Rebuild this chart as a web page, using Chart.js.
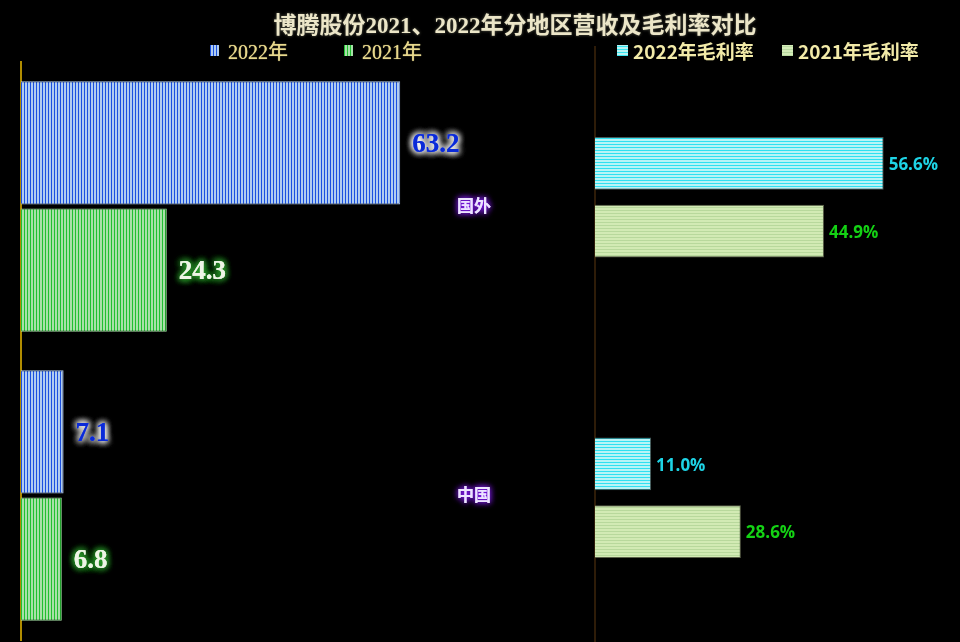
<!DOCTYPE html>
<html>
<head>
<meta charset="utf-8">
<script src="https://cdn.jsdelivr.net/npm/chart.js@4"></script>
<style>
  html, body { margin: 0; padding: 0; background: #000; }
  #wrap { position: relative; width: 960px; height: 642px; overflow: hidden; background: #000; }
  canvas { position: absolute; left: 0; top: 0; }
  .title { position: absolute; top: 6px; left: 515px; transform: translateX(-50%); white-space: nowrap;
    font: bold 23px "Liberation Serif", "Noto Sans CJK SC", serif; color: #ece6c8;
    text-shadow: 0 0 3px rgba(120,120,100,0.8); }
  .leg { position: absolute; white-space: nowrap; display: flex; align-items: center; }
  .legL { font: 20px "Liberation Serif", "Noto Sans CJK SC", serif; color: #e8d88c; top: 36px;
    text-shadow: 0 0 1px #e8d88c; }
  .legR { font: bold 19px "Noto Sans CJK SC", sans-serif; color: #f2eaa8; top: 37px; }
  .sw { display: inline-block; margin-right: 9px; }
</style>
</head>
<body>
<div id="wrap">
  <canvas id="left" width="960" height="642"></canvas>
  <canvas id="right" width="960" height="660"></canvas>
  <div class="title">博腾股份2021、2022年分地区营收及毛利率对比</div>
  <div class="leg legL" style="left:210px"><span class="sw" style="width:9px;height:11px;background:repeating-linear-gradient(90deg,#1a50e0 0 1px,#b0ccf0 1px 3px)"></span>2022年</div>
  <div class="leg legL" style="left:344px"><span class="sw" style="width:9px;height:11px;background:repeating-linear-gradient(90deg,#20c030 0 1px,#a8e0a8 1px 3px)"></span>2021年</div>
  <div class="leg legR" style="left:617px"><span class="sw" style="width:11px;height:11px;margin-right:5px;background:repeating-linear-gradient(0deg,#38e4f0 0 1px,#b8f4f4 1px 3px)"></span>2022年毛利率</div>
  <div class="leg legR" style="left:782px"><span class="sw" style="width:11px;height:11px;margin-right:5px;background:repeating-linear-gradient(0deg,#b8d8a0 0 1px,#d4ecb8 1px 3px)"></span>2021年毛利率</div>
</div>
<script>
"use strict";

// Data

var categories = ["国外", "中国"],
	revenue2022 = [63.2, 7.1],
	revenue2021 = [24.3, 6.8],
	margin2022 = [56.6, 11.0],
	margin2021 = [44.9, 28.6];

// Helpers

function stripes(dark, light, vertical) {
	var c = document.createElement("canvas"), g;

	c.width = 3;
	c.height = 3;
	g = c.getContext("2d");
	g.fillStyle = light;
	g.fillRect(0, 0, 3, 3);
	g.fillStyle = dark;
	if (vertical) {
		g.fillRect(0, 0, 1, 3);
	}
	else {
		g.fillRect(0, 0, 3, 1);
	}
	return g.createPattern(c, "repeat");
}

// draws value labels next to bar ends, with a glow
var valueLabels = {
	id: "valueLabels",
	afterDatasetsDraw: function (chart) {
		var ctx = chart.ctx, cfg = chart.options.plugins.valueLabels;

		chart.data.datasets.forEach(function (ds, i) {
			var meta = chart.getDatasetMeta(i), st = cfg.styles[i];

			meta.data.forEach(function (bar, j) {
				var text = ds.data[j].toFixed(1) + cfg.suffix;

				ctx.save();
				ctx.font = cfg.font;
				ctx.textAlign = "left";
				ctx.textBaseline = "middle";
				ctx.fillStyle = st.color;
				if (st.glow) {
					ctx.shadowColor = st.glow;
					ctx.shadowBlur = 7;
					ctx.fillText(text, bar.x + cfg.offset, bar.y + 2);
					ctx.fillText(text, bar.x + cfg.offset, bar.y + 2);
					ctx.fillText(text, bar.x + cfg.offset, bar.y + 2);
				}
				ctx.fillText(text, bar.x + cfg.offset, bar.y + 2);
				ctx.restore();
			});
		});
	}
};

// category names drawn between the two charts
var categoryLabels = {
	id: "categoryLabels",
	afterDraw: function (chart) {
		var ctx = chart.ctx, y = chart.scales.y;

		categories.forEach(function (name, i) {
			ctx.save();
			ctx.font = "bold 17px 'Noto Sans CJK SC'";
			ctx.textAlign = "center";
			ctx.textBaseline = "middle";
			ctx.fillStyle = "#ece4ff";
			ctx.shadowColor = "#8a1cff";
			ctx.shadowBlur = 6;
			ctx.fillText(name, 474, y.getPixelForValue(i) - 1);
			ctx.fillText(name, 474, y.getPixelForValue(i) - 1);
			ctx.restore();
		});
	}
};

// Revenue chart (left)

new Chart(document.getElementById("left"), {
	type: "bar",
	data: {
		labels: categories,
		datasets: [{
			label: "2022年",
			data: revenue2022,
			backgroundColor: stripes("#1a50e0", "#b0ccf0", true),
			borderColor: "#a8c4f0",
			borderWidth: 1
		}, {
			label: "2021年",
			data: revenue2021,
			backgroundColor: stripes("#20c030", "#a8e0a8", true),
			borderColor: "#a0dca0",
			borderWidth: 1
		}]
	},
	options: {
		indexAxis: "y",
		responsive: false,
		animation: false,
		categoryPercentage: 0.88,
		barPercentage: 0.97,
		layout: { padding: { left: 21, top: 62, right: 339, bottom: 2 } },
		scales: {
			x: { display: false, min: 0, max: 100 },
			y: {
				ticks: { display: false },
				grid: { display: false, drawTicks: false },
				border: { color: "#b08c00", width: 2 }
			}
		},
		plugins: {
			legend: { display: false },
			tooltip: { enabled: false },
			valueLabels: {
				font: "bold 27px 'Liberation Serif'",
				offset: 12,
				suffix: "",
				styles: [{ color: "#0a2ad8", glow: "#ffffff" }, { color: "#eef4e6", glow: "#2a9a2a" }]
			}
		}
	},
	plugins: [valueLabels, categoryLabels]
});

// Gross margin chart (right)

new Chart(document.getElementById("right"), {
	type: "bar",
	data: {
		labels: categories,
		datasets: [{
			label: "2022年毛利率",
			data: margin2022,
			backgroundColor: stripes("#30e0f0", "#b8f4f6", false),
			borderColor: "#4a5a5a",
			borderWidth: 1
		}, {
			label: "2021年毛利率",
			data: margin2021,
			backgroundColor: stripes("#b8d89c", "#d2eab4", false),
			borderColor: "#5a6048",
			borderWidth: 1
		}]
	},
	options: {
		indexAxis: "y",
		responsive: false,
		animation: false,
		categoryPercentage: 0.45,
		barPercentage: 0.78,
		layout: { padding: { left: 595, top: 47, right: 8, bottom: 12 } },
		scales: {
			x: { display: false, min: 0, max: 70 },
			y: {
				ticks: { display: false },
				grid: { display: false, drawTicks: false },
				border: { color: "#2e1c08", width: 2 }
			}
		},
		plugins: {
			legend: { display: false },
			tooltip: { enabled: false },
			valueLabels: {
				font: "bold 17px 'Open Sans'",
				offset: 5,
				suffix: "%",
				styles: [{ color: "#1ed4e6" }, { color: "#14d214" }]
			}
		}
	},
	plugins: [valueLabels]
});
</script>
</body>
</html>
